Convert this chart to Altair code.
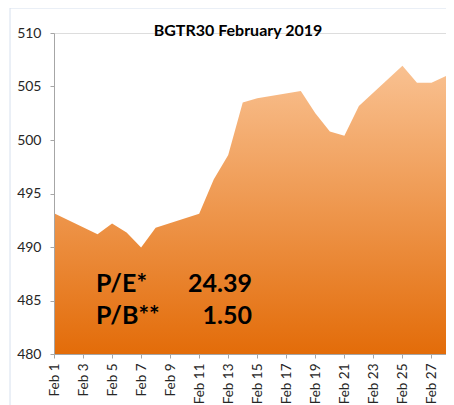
import altair as alt
import pandas as pd

# Trading days of February 2019 (day of month) and index closing values
days = [1, 4, 5, 6, 7, 8, 11, 12, 13, 14, 15, 18, 19, 20, 21, 22, 25, 26, 27, 28]
values = [493.15, 491.2, 492.2, 491.35, 489.95, 491.8, 493.1, 496.3, 498.6, 503.5,
          503.9, 504.58, 502.5, 500.8, 500.4, 503.18, 506.94, 505.36, 505.36, 505.98]
tick_days = [1, 3, 5, 7, 9, 11, 13, 15, 17, 19, 21, 23, 25, 27]
y_ticks = [480, 485, 490, 495, 500, 505, 510]
title_text = "BGTR30 February 2019"
ratio_labels = ["P/E*", "P/B**"]
ratio_values = ["24.39", "1.50"]

df = pd.DataFrame({"day": days, "value": values})

FONT = "Lato"

area = alt.Chart(df).mark_area(
    line=False,
    opacity=1,
    fill=alt.Gradient(
        gradient="linear",
        stops=[alt.GradientStop(color="#F9C191", offset=0),
               alt.GradientStop(color="#E36C09", offset=1)],
        x1=0, x2=0, y1=0, y2=1,
    ),
).encode(
    x=alt.X("day:Q",
            scale=alt.Scale(domain=[1, 28], nice=False, zero=False),
            axis=alt.Axis(values=tick_days, labelExpr="'Feb ' + datum.value",
                          labelAngle=-90, labelAlign="right", labelBaseline="middle",
                          title=None, grid=False, domainColor="#A6A6A6",
                          tickColor="#A6A6A6", tickSize=4, labelPadding=5,
                          labelFont=FONT, labelFontSize=13.5, labelColor="#262626",
                          labelOverlap=False, labelBound=False, zindex=1)),
    y=alt.Y("value:Q",
            scale=alt.Scale(domain=[480, 510], nice=False, zero=False),
            axis=alt.Axis(values=y_ticks, title=None, grid=False,
                          domainColor="#A6A6A6", tickColor="#A6A6A6", tickSize=4,
                          labelPadding=9, labelFont=FONT, labelFontSize=14,
                          labelColor="#262626", zindex=1)),
    y2=alt.datum(480),
)

title = alt.Chart(pd.DataFrame({"t": [title_text]})).mark_text(
    font=FONT, fontSize=16, fontWeight="bold", color="#000000",
    align="center", baseline="alphabetic",
).encode(text="t:N", x=alt.value(184), y=alt.value(3))

ratios = pd.DataFrame({"label": ratio_labels, "val": ratio_values, "row": [0, 1]})
row_scale = alt.Scale(domain=[0, 1], range=[259, 291])

lab = alt.Chart(ratios).mark_text(
    font=FONT, fontSize=25, fontWeight="bold", color="#000000",
    align="left", baseline="alphabetic",
).encode(
    text="label:N",
    x=alt.value(42),
    y=alt.Y("row:Q", scale=row_scale, axis=None),
)

val = alt.Chart(ratios).mark_text(
    font=FONT, fontSize=25, fontWeight="bold", color="#000000",
    align="right", baseline="alphabetic",
).encode(
    text="val:N",
    x=alt.value(198),
    y=alt.Y("row:Q", scale=row_scale, axis=None),
)

border = alt.Chart(pd.DataFrame({"a": [0]})).mark_rect(
    fill=None, stroke="#D6E0EE", strokeWidth=1,
).encode(x=alt.value(-44), x2=alt.value(394), y=alt.value(-25), y2=alt.value(400))

chart = alt.layer(border, area, title, lab, val).resolve_scale(y="independent").properties(
    width=392, height=321,
    autosize=alt.AutoSizeParams(type="none"),
    padding={"left": 46, "top": 25, "right": 0, "bottom": 60},
).configure_view(stroke=None).configure(background="white")

chart.save("out.html", embed_options={"renderer": "svg", "actions": False})
